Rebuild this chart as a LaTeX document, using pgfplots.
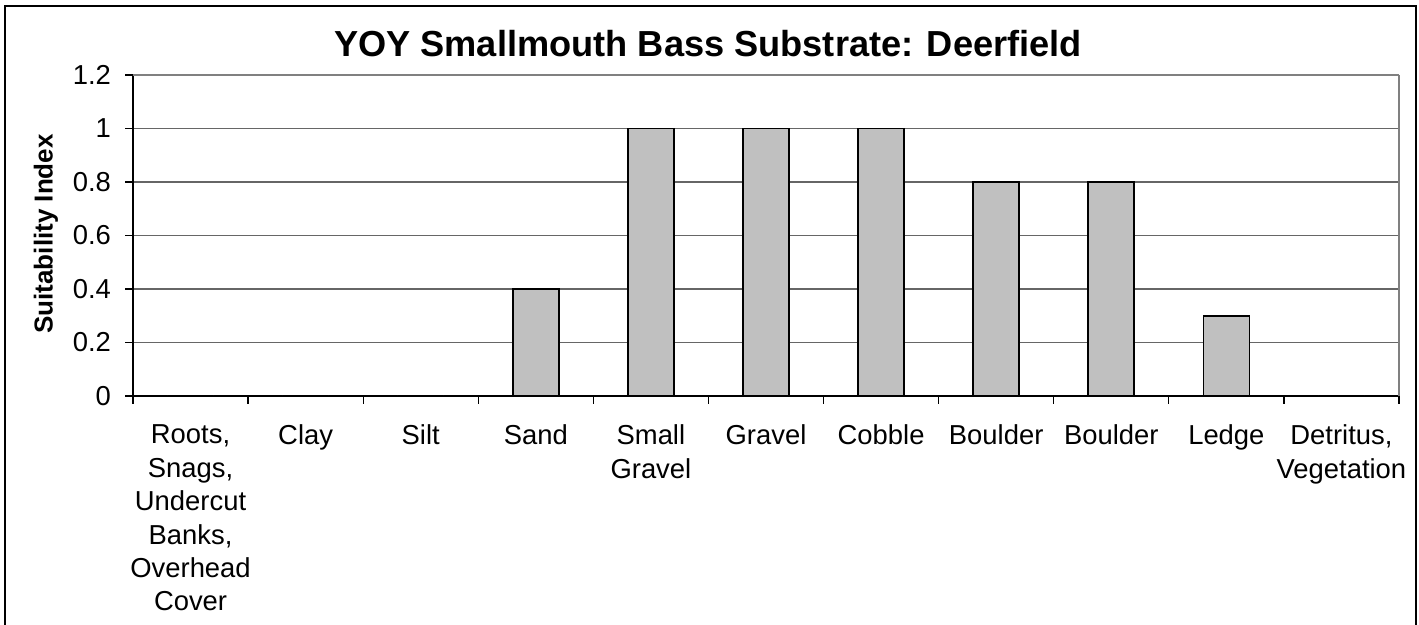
\documentclass[border=0pt]{standalone}
\usepackage{fontspec}
\setmainfont{Liberation Sans}
\usepackage{pgfplots}
\pgfplotsset{compat=1.18}
\definecolor{barfill}{HTML}{C0C0C0}

\begin{document}
\begin{tikzpicture}
% page and outer chart frame (1 px = 0.5pt); frame runs off the bottom
\useasboundingbox (0,0) rectangle (709.5pt,312.5pt);
\draw[line width=0.8pt] (2.5pt,-2pt) -- (2.5pt,309.5pt) -- (708pt,309.5pt) -- (708pt,-2pt);

\begin{axis}[
    at={(66.5pt,114.5pt)}, anchor=south west,
    scale only axis,
    width=633pt, height=160.5pt,
    xmin=-0.5, xmax=10.5,
    ymin=0, ymax=1.2,
    ytick={0,0.2,...,1.2},
    yticklabels={0,0.2,0.4,0.6,0.8,1,1.2},
    xtick={0,...,10},
    xticklabels={
        {Roots,\\Snags,\\Undercut\\Banks,\\Overhead\\Cover},
        Clay, Silt, Sand, {Small\\Gravel}, Gravel, Cobble,
        Boulder, Boulder, Ledge, {Detritus,\\Vegetation}},
    minor xtick={-0.5,0.5,...,10.5},
    major x tick style={draw=none},
    minor x tick style={black, line width=0.6pt},
    y tick style={black, line width=0.6pt},
    tick align=outside,
    major tick length=4pt,
    minor tick length=4pt,
    axis x line*=bottom,
    axis y line*=left,
    axis line style={-, black, line width=0.6pt},
    ymajorgrids,
    grid style={black!60, line width=0.6pt},
    tick label style={font=\fontsize{13.7}{16.7}\selectfont},
    xticklabel style={align=center, anchor=north, yshift=-7pt},
    yticklabel style={xshift=-3.5pt},
    /pgf/number format/assume math mode=true,
    ybar,
    bar width=23pt,
    clip=false,
]
\addplot[fill=barfill, draw=black, line width=0.8pt] coordinates {
    (0,0) (1,0) (2,0) (3,0.4) (4,1) (5,1) (6,1) (7,0.8) (8,0.8) (9,0.3) (10,0)
};
\draw[black!50, line width=0.6pt] (rel axis cs:1,0) -- (rel axis cs:1,1);
\draw[black!50, line width=0.6pt] (rel axis cs:0,1) -- (rel axis cs:1,1);
\end{axis}

\node[font=\fontsize{18.1}{20}\selectfont\bfseries] at (354pt,290.5pt)
    {YOY Smallmouth Bass Substrate: Deerfield};
\node[font=\fontsize{13}{15}\selectfont\bfseries, rotate=90] at (23pt,195.5pt)
    {Suitability Index};
\end{tikzpicture}
\end{document}
